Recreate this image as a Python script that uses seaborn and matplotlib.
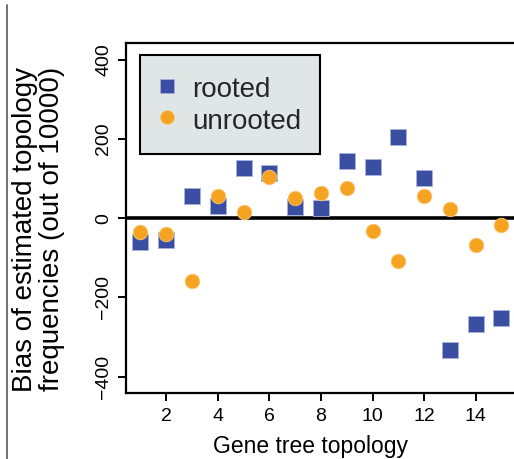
import matplotlib
matplotlib.use("Agg")
from matplotlib import pyplot as plt
from matplotlib.lines import Line2D
import seaborn as sns
import pandas as pd

# gene tree topologies 1..15
topology = list(range(1, 16))

# bias of estimated topology frequencies (out of 10000)
rooted = [-60, -55, 56, 31, 128, 115, 28, 25, 145, 130, 206, 103, -333, -267, -251]
unrooted = [-34, -40, -158, 57, 17, 105, 52, 65, 76, -32, -108, 57, 24, -67, -17]

blue = "#3a4ea2"
orange = "#f6a321"

sns.set_theme(style="white")
plt.rcParams['font.family'] = ['Liberation Sans', 'DejaVu Sans']

df = pd.DataFrame({
    "topology": topology * 2,
    "bias": rooted + unrooted,
    "type": ["rooted"] * len(rooted) + ["unrooted"] * len(unrooted),
})

fig = plt.figure(figsize=(5.14, 4.59), dpi=100)
ax = fig.add_axes([0.2451, 0.1431, 0.7586, 0.7626])

sns.scatterplot(data=df[df["type"] == "rooted"], x="topology", y="bias",
                marker="s", s=125, color=blue, edgecolor="#a9b4dd",
                linewidth=0.6, ax=ax, legend=False, zorder=3)
sns.scatterplot(data=df[df["type"] == "unrooted"], x="topology", y="bias",
                marker="o", s=110, color=orange, edgecolor="#f9c77a",
                linewidth=0.6, ax=ax, legend=False, zorder=4)

ax.axhline(0, color="black", lw=2.6, zorder=2)

ax.set_xlim(0.44, 15.56)
ax.set_ylim(-442, 442)
ax.set_xticks([2, 4, 6, 8, 10, 12, 14])
ax.set_yticks([-400, -200, 0, 200, 400])

for sp in ax.spines.values():
    sp.set_color("black")
    sp.set_linewidth(1.6)

ax.tick_params(axis="both", direction="out", length=6, width=1.4,
               color="black", labelsize=14, labelcolor="black")
ax.tick_params(axis="x", pad=4.5, bottom=True)
ax.tick_params(axis="y", pad=4, left=True, labelrotation=90)
for lab in ax.get_yticklabels():
    lab.set_va("center")

ax.set_xlabel("Gene tree topology", fontsize=16.5, color="black")
ax.xaxis.label.set_va("center")
ax.xaxis.set_label_coords(0.472, -0.153)

ax.set_ylabel("Bias of estimated topology\nfrequencies (out of 10000)",
              fontsize=20, color="black", linespacing=1.05)
ax.yaxis.label.set_va("center")
ax.yaxis.set_label_coords(-0.225, 0.469)

handles = [
    Line2D([], [], marker="s", ls="none", markersize=9.5, color=blue,
           markeredgecolor="#a9b4dd", markeredgewidth=0.5, label="rooted"),
    Line2D([], [], marker="o", ls="none", markersize=10, color=orange,
           markeredgecolor="#f9c77a", markeredgewidth=0.5, label="unrooted"),
]
leg = ax.legend(handles=handles, loc="upper left", bbox_to_anchor=(0.036, 0.967),
                fontsize=20, frameon=True, fancybox=False, borderpad=0.68,
                handletextpad=0.6, handlelength=0.59, handleheight=1.2,
                labelspacing=0.07, borderaxespad=0, framealpha=1)
leg.get_frame().set_facecolor("#e0e5e5")
leg.get_frame().set_edgecolor("black")
leg.get_frame().set_linewidth(1.5)

# grey vertical rule on the far left
fig.add_artist(Line2D([0.0135, 0.0135], [0.0, 0.99], color="#666666", lw=1.3,
                      transform=fig.transFigure))

fig.savefig("out.png", dpi=100)
